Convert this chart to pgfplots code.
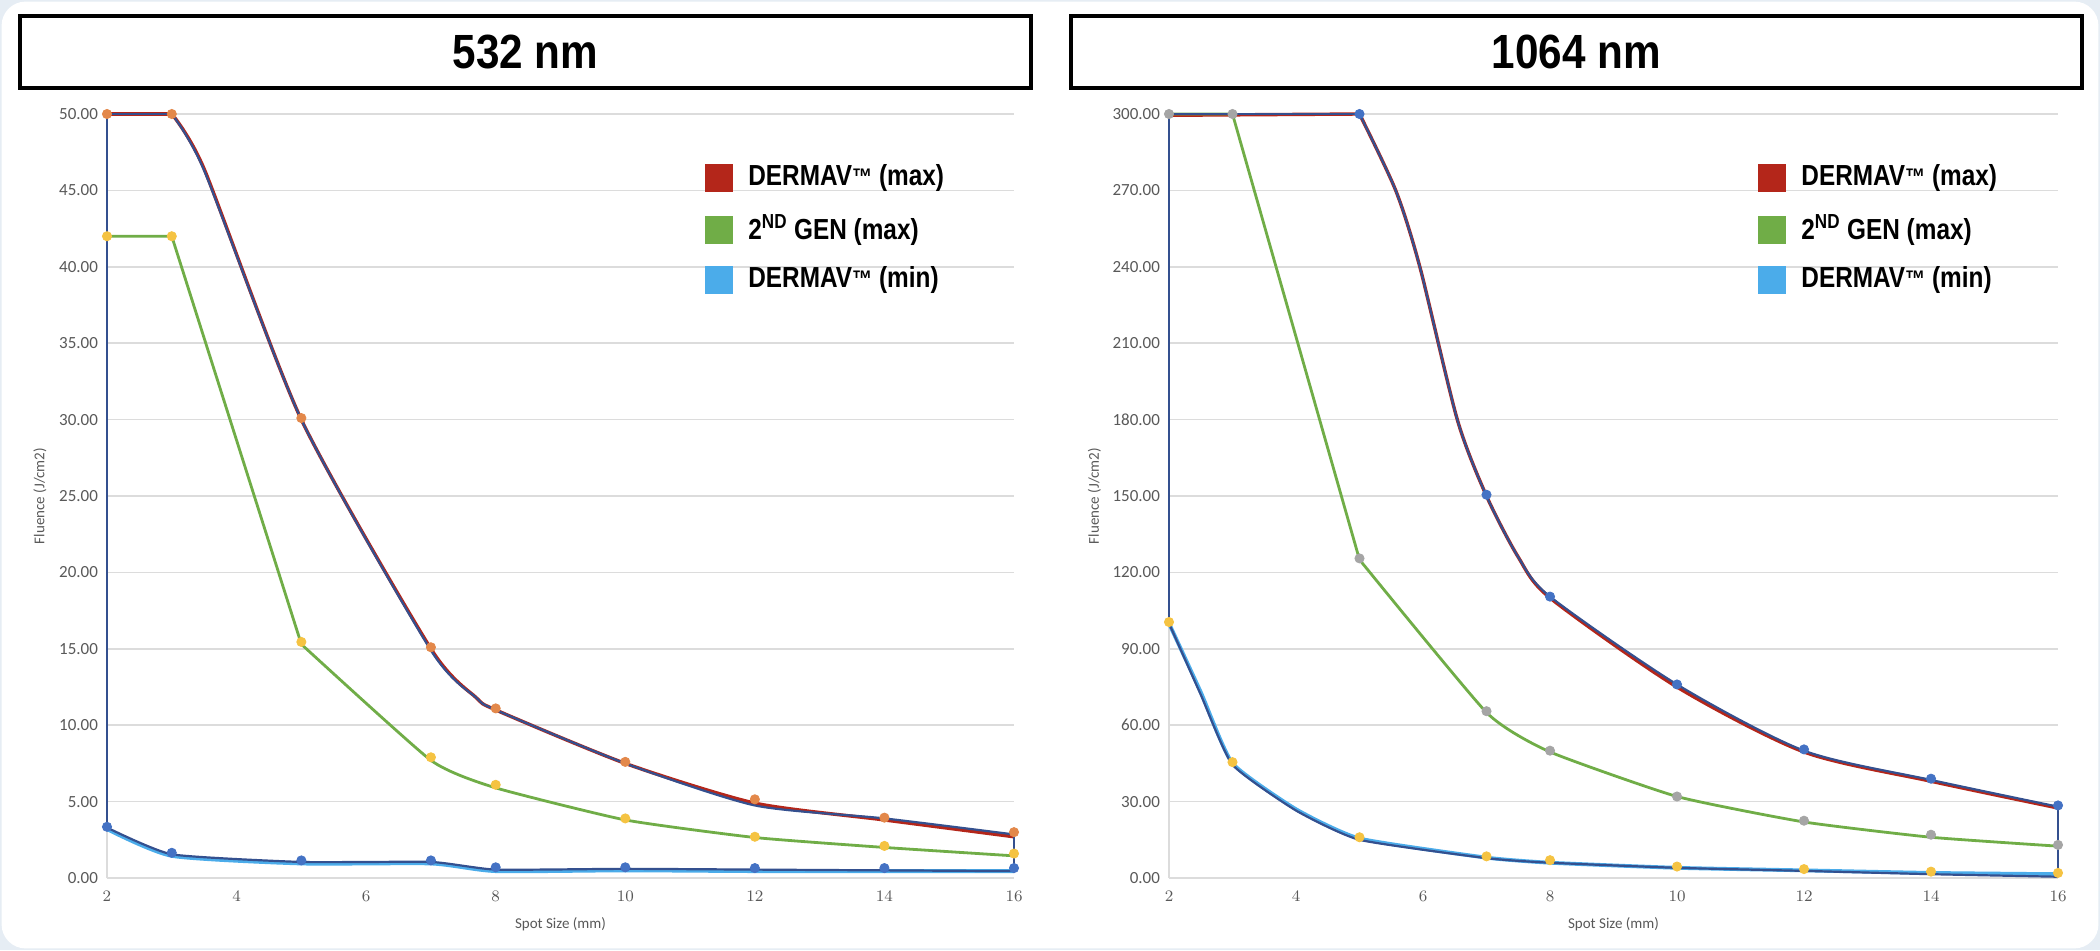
\documentclass[border=0pt]{standalone}
\usepackage{graphicx}
\usepackage{fontspec}
\setmainfont{Carlito}
\newfontfamily\titlefont{Liberation Sans}
\usepackage{pgfplots}
\pgfplotsset{compat=1.18}

\definecolor{dred}{HTML}{B4261A}
\definecolor{dgreen}{HTML}{70AD47}
\definecolor{lblue}{HTML}{4BACEA}
\definecolor{navy}{HTML}{34508F}
\definecolor{xorange}{HTML}{E3884A}
\definecolor{xyellow}{HTML}{F5C342}
\definecolor{xblue}{HTML}{4472C4}
\definecolor{xgray}{HTML}{A5A5A5}
\definecolor{gridc}{HTML}{DCDCDC}
\definecolor{tickc}{HTML}{595959}
\definecolor{bgc}{HTML}{E6EDF4}

\pgfplotsset{
  excel/.style={
    scale only axis, clip=false,
    xmin=2, xmax=16, ymin=0,
    xtick={2,4,...,16},
    axis x line*=bottom, axis y line*=left,
    axis line style={gridc, line width=1pt},
    ymajorgrids, grid style={gridc, line width=0.8pt},
    major tick length=0pt,
    tick label style={font=\fontsize{8.5}{10}\selectfont, color=tickc},
    xticklabel style={yshift=-3pt},
    yticklabel style={xshift=-1pt, /pgf/number format/.cd, fixed, fixed zerofill, precision=2, assume math mode=true},
    label style={font=\fontsize{7.5}{9}\selectfont, color=tickc},
    xlabel={Spot Size (mm)},
    ylabel={Fluence (J/cm2)},
    xlabel style={at={(axis description cs:0.5,-0.06)}, anchor=center},
  },
  mk/.style={only marks, mark=*, mark size=2.3pt, color=#1, forget plot},
}

\newcommand{\tm}{{\fontsize{12}{14}\selectfont ™}}
\newcommand{\legtext}[1]{{\titlefont\bfseries\fontsize{14.5}{16}\selectfont\scalebox{0.84}[1]{#1}}}
\newcommand{\ttl}[1]{{\titlefont\bfseries\fontsize{24}{28}\selectfont\scalebox{0.88}[1]{#1}}}

\begin{document}
\begin{tikzpicture}
\fill[bgc] (0pt,0pt) rectangle (1050pt,475pt);
\fill[white, rounded corners=12pt] (0.8pt,0.8pt) rectangle (1049.2pt,474.2pt);

% title boxes
\draw[line width=2pt] (10pt,431pt) rectangle (515.5pt,467pt);
\node at (262.75pt,449pt) {\ttl{532 nm}};
\draw[line width=2pt] (535.5pt,431pt) rectangle (1041pt,467pt);
\node at (788.25pt,449pt) {\ttl{1064 nm}};

% ---------------- 532 nm ----------------
\begin{axis}[excel, at={(53.5pt,36pt)}, anchor=south west, width=453.5pt, height=382pt,
  ymax=50, ytick={0,5,...,50},
  ylabel style={at={(axis description cs:-0.074,0.5)}, anchor=center}]
\addplot[mk=xorange] coordinates {(2,50)(3,50)(5,30.1)(7,15.1)(8,11.1)(10,7.6)(12,5.15)(14,3.95)(16,3.0)};
\addplot[mk=xyellow] coordinates {(2,42)(3,42)(5,15.45)(7,7.9)(8,6.1)(10,3.9)(12,2.7)(14,2.1)(16,1.6)};
\addplot[mk=xblue] coordinates {(2,3.35)(3,1.65)(5,1.15)(7,1.15)(8,0.7)(10,0.7)(12,0.65)(14,0.65)(16,0.65)};
% red
\addplot[dred, line width=1.7pt] coordinates {(2,50)(3,50)};
\addplot[dred, line width=1.7pt, smooth, tension=0.4] coordinates {(3,50)(3.5,46.4)(5,30)(7,15)(7.7,11.8)(8,11)(10,7.5)(12,4.9)(14,3.8)(16,2.7)};
% green
\addplot[dgreen, line width=1.4pt] coordinates {(2,42)(3,42)(5,15.3)};
\addplot[dgreen, line width=1.4pt, smooth, tension=0.3] coordinates {(5,15.3)(7,7.7)(8,5.9)(10,3.8)(12,2.65)(14,2.0)(16,1.45)};
% light blue
\addplot[lblue, line width=1.9pt, smooth, tension=0.35] coordinates {(2,3.2)(3,1.45)(5,0.95)(7,0.95)(8,0.45)(10,0.5)(12,0.45)(14,0.45)(16,0.45)};
% navy outline
\addplot[navy, line width=1.1pt] coordinates {(2,3.3)(2,50)(3,50)};
\addplot[navy, line width=1.1pt, smooth, tension=0.4] coordinates {(3,50)(3.5,46.3)(5,30)(7,14.9)(7.7,11.8)(8,11)(10,7.5)(12,4.75)(14,3.9)(16,2.85)};
\addplot[navy, line width=1.1pt] coordinates {(16,2.85)(16,0.45)};
\addplot[navy, line width=1.1pt, smooth, tension=0.3] coordinates {(16,0.45)(14,0.5)(12,0.55)(10,0.6)(8,0.55)(7,1.05)(5,1.05)(3,1.55)(2,3.3)};
\end{axis}

% ---------------- 1064 nm ----------------
\begin{axis}[excel, at={(584.5pt,36pt)}, anchor=south west, width=444.5pt, height=382pt,
  ymax=300, ytick={0,30,...,300},
  ylabel style={at={(axis description cs:-0.084,0.5)}, anchor=center}]
\addplot[mk=xgray] coordinates {(2,300)(3,300)(5,125.5)(7,65.5)(8,50)(10,32)(12,22.5)(14,17)(16,13)};
\addplot[mk=xblue] coordinates {(5,300)(7,150.5)(8,110.5)(10,76)(12,50.5)(14,39)(16,28.5)};
\addplot[mk=xyellow] coordinates {(2,100.5)(3,45.5)(5,16)(7,8.5)(8,7)(10,4.5)(12,3.5)(14,2.5)(16,2)};
% red
\addplot[dred, line width=1.7pt] coordinates {(2,299.5)(5,300)};
\addplot[dred, line width=1.7pt, smooth, tension=0.45] coordinates {(5,300)(5.57,270)(5.95,240)(6.54,180)(7,150)(7.5,126)(8,110)(10,75)(12,49.5)(14,38)(16,27.5)};
% green
\addplot[dgreen, line width=1.4pt] coordinates {(2,300)(3,300)(5,125)};
\addplot[dgreen, line width=1.4pt, smooth, tension=0.3] coordinates {(5,125)(7,65)(8,49.5)(10,32)(12,22)(14,16)(16,12.5)};
% light blue
\addplot[lblue, line width=1.9pt, smooth, tension=0.3] coordinates {(2,100)(2.5,73)(3,45)(4,27)(5,15.5)(7,8)(8,6)(10,4)(12,3)(14,2)(16,1.5)};
% navy outline
\addplot[navy, line width=1.1pt] coordinates {(2,100)(2,300)(5,300)};
\addplot[navy, line width=1.1pt, smooth, tension=0.45] coordinates {(5,300)(5.57,270)(5.95,240)(6.54,180)(7,150)(7.5,126)(8,110.5)(10,76)(12,50)(14,38.5)(16,28)};
\addplot[navy, line width=1.1pt] coordinates {(16,28)(16,0.5)};
\addplot[navy, line width=1.1pt, smooth, tension=0.3] coordinates {(16,0.5)(14,1.5)(12,2.8)(10,4)(8,6)(7,7.8)(5,15)(4,26.5)(3,44.5)(2.5,72)(2,100)};
\end{axis}

% legends
\foreach \x/\tx in {352.5/374, 879/900.5}{
  \fill[dred]   (\x pt,379pt) rectangle ++(14pt,14pt);
  \fill[dgreen] (\x pt,353pt) rectangle ++(14pt,14pt);
  \fill[lblue]  (\x pt,328pt) rectangle ++(14pt,14pt);
  \node[anchor=west, inner sep=0pt] at (\tx pt,386pt) {\legtext{DERMAV\tm\ (max)}};
  \node[anchor=west, inner sep=0pt] at (\tx pt,360pt) {\legtext{2\textsuperscript{ND} GEN (max)}};
  \node[anchor=west, inner sep=0pt] at (\tx pt,335pt) {\legtext{DERMAV\tm\ (min)}};
}
\pgfresetboundingbox
\path[use as bounding box] (0pt,0pt) rectangle (1050pt,475pt);
\end{tikzpicture}
\end{document}
